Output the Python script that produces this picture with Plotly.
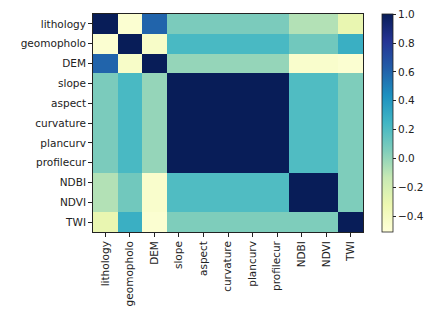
import plotly.graph_objects as go

labels = ["lithology", "geomopholo", "DEM", "slope", "aspect", "curvature",
          "plancurv", "profilecur", "NDBI", "NDVI", "TWI"]

# correlation values (rows top to bottom, same column order)
row_lithology  = [1.00, -0.47, 0.60, 0.07, 0.07, 0.07, 0.07, 0.07, -0.08, -0.08, -0.30]
row_geomopholo = [-0.47, 1.00, -0.43, 0.22, 0.22, 0.22, 0.22, 0.22, 0.10, 0.10, 0.28]
row_dem        = [0.60, -0.43, 1.00, 0.00, 0.00, 0.00, 0.00, 0.00, -0.45, -0.45, -0.47]
row_slope      = [0.07, 0.22, 0.00, 1.00, 1.00, 1.00, 1.00, 1.00, 0.20, 0.20, 0.06]
row_aspect     = [0.07, 0.22, 0.00, 1.00, 1.00, 1.00, 1.00, 1.00, 0.20, 0.20, 0.06]
row_curvature  = [0.07, 0.22, 0.00, 1.00, 1.00, 1.00, 1.00, 1.00, 0.20, 0.20, 0.06]
row_plancurv   = [0.07, 0.22, 0.00, 1.00, 1.00, 1.00, 1.00, 1.00, 0.20, 0.20, 0.06]
row_profilecur = [0.07, 0.22, 0.00, 1.00, 1.00, 1.00, 1.00, 1.00, 0.20, 0.20, 0.06]
row_ndbi       = [-0.08, 0.10, -0.45, 0.20, 0.20, 0.20, 0.20, 0.20, 1.00, 1.00, 0.06]
row_ndvi       = [-0.08, 0.10, -0.45, 0.20, 0.20, 0.20, 0.20, 0.20, 1.00, 1.00, 0.06]
row_twi        = [-0.30, 0.28, -0.47, 0.06, 0.06, 0.06, 0.06, 0.06, 0.06, 0.06, 1.00]

z = [row_lithology, row_geomopholo, row_dem, row_slope, row_aspect, row_curvature,
     row_plancurv, row_profilecur, row_ndbi, row_ndvi, row_twi]

colorbar_ticks = [1.0, 0.8, 0.6, 0.4, 0.2, 0.0, -0.2, -0.4]

ylgnbu = [[0.0, "#ffffd9"], [0.125, "#edf8b1"], [0.25, "#c7e9b4"], [0.375, "#7fcdbb"],
          [0.5, "#41b6c4"], [0.625, "#1d91c0"], [0.75, "#225ea8"], [0.875, "#253494"],
          [1.0, "#081d58"]]

font = dict(family="DejaVu Sans", size=10.5, color="#222222")

fig = go.Figure(go.Heatmap(
    z=z, x=labels, y=labels,
    colorscale=ylgnbu, zmin=-0.51, zmax=1.001,
    colorbar=dict(
        thickness=11, len=1.0, lenmode="fraction", y=0.5, yanchor="middle",
        x=1.07, xanchor="left", xpad=0, ypad=0,
        tickvals=colorbar_ticks, tickformat=".1f",
        ticks="outside", ticklen=3, tickcolor="#222222",
        tickfont=font, outlinewidth=0.8, outlinecolor="#222222",
    ),
))

fig.update_layout(
    width=424, height=316,
    margin=dict(l=93, r=61, t=14, b=84, autoexpand=False),
    paper_bgcolor="white", plot_bgcolor="white",
    font=font,
)
fig.update_xaxes(tickangle=-90, ticks="outside", ticklen=4, tickcolor="#222222",
                 showline=True, linecolor="#222222", linewidth=0.8, mirror=True,
                 tickfont=font)
fig.update_yaxes(autorange="reversed", ticks="outside", ticklen=4, tickcolor="#222222",
                 showline=True, linecolor="#222222", linewidth=0.8, mirror=True,
                 tickfont=font)

fig.write_html("out.html", config={"displayModeBar": False},
               post_script="document.body.style.margin='0';document.body.style.overflow='hidden';")
